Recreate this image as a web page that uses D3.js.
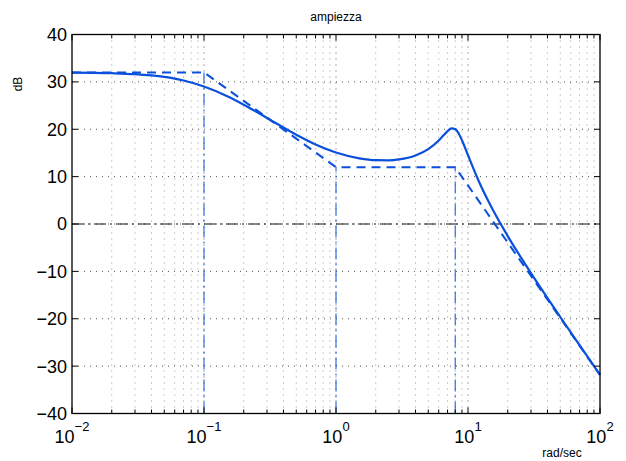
<!DOCTYPE html>
<html>
<head>
<meta charset="utf-8">
<script src="https://cdn.jsdelivr.net/npm/d3@7"></script>
<style>
  body { margin: 0; background: #fff; }
  svg { display: block; font-family: "Liberation Sans", Arial, sans-serif; }
</style>
</head>
<body>
<svg id="bode"></svg>
<script>
const width = 626, height = 461;

// magnitude curve (rad/sec, dB)
const freq = [0.01, 0.02, 0.03, 0.05, 0.07, 0.1, 0.15, 0.2, 0.3, 0.5, 0.7, 1, 1.5, 2, 2.5, 3, 4, 5, 6, 6.5, 7, 7.5, 8, 8.5, 9, 10, 12, 15, 20, 30, 50, 70, 100];
const magDb = [31.96, 31.83, 31.63, 31.04, 30.29, 29.03, 26.98, 25.19, 22.39, 18.85, 16.80, 15.09, 13.86, 13.47, 13.45, 13.64, 14.46, 15.80, 17.62, 18.66, 19.60, 20.17, 20.03, 19.11, 17.69, 14.51, 9.19, 3.64, -2.55, -10.37, -19.63, -25.57, -31.83];

// asymptotic approximation
const asymFreq = [0.01, 0.1, 1, 8, 100];
const asymDb = [32, 32, 12, 12, -31.88];

// break frequencies (vertical guides) and their asymptote level
const breakFreq = [0.1, 1, 8];
const breakDb = [32, 12, 12];

const yTicks = [-40, -30, -20, -10, 0, 10, 20, 30, 40];
const xDecades = [-2, -1, 0, 1, 2];

const margin = {top: 34.5, right: 26, bottom: 47.5, left: 72};
const blue = "#0a50dc";

const svg = d3.select("#bode")
    .attr("width", width)
    .attr("height", height);

const x = d3.scaleLog()
    .domain([0.01, 100])
    .range([margin.left, width - margin.right]);
const y = d3.scaleLinear()
    .domain([-40, 40])
    .range([height - margin.bottom, margin.top]);

// minor x values 2..9 per decade
const minorX = [];
for (let d = -2; d < 2; d++) {
  for (let k = 2; k <= 9; k++) minorX.push(k * Math.pow(10, d));
}
const majorX = xDecades.map(d => Math.pow(10, d));

const grid = svg.append("g");
grid.selectAll("line.minor")
    .data(minorX)
    .enter().append("line")
    .attr("x1", d => x(d)).attr("x2", d => x(d))
    .attr("y1", y(40)).attr("y2", y(-40))
    .attr("stroke", "#999")
    .attr("stroke-dasharray", "1,5");
grid.selectAll("line.majorx")
    .data(majorX.slice(1, -1))
    .enter().append("line")
    .attr("x1", d => x(d)).attr("x2", d => x(d))
    .attr("y1", y(40)).attr("y2", y(-40))
    .attr("stroke", "#555")
    .attr("stroke-dasharray", "1,5");
grid.selectAll("line.majory")
    .data(yTicks.slice(1, -1))
    .enter().append("line")
    .attr("x1", x(0.01)).attr("x2", x(100))
    .attr("y1", d => y(d)).attr("y2", d => y(d))
    .attr("stroke", "#555")
    .attr("stroke-dasharray", "1,5");

// 0 dB reference
svg.append("line")
    .attr("x1", x(0.01)).attr("x2", x(100))
    .attr("y1", y(0)).attr("y2", y(0))
    .attr("stroke", "#111")
    .attr("stroke-width", 1)
    .attr("stroke-dasharray", "12,4,2,4");

// vertical break lines
svg.selectAll("line.brk")
    .data(breakFreq)
    .enter().append("line")
    .attr("x1", d => x(d)).attr("x2", d => x(d))
    .attr("y1", y(-40)).attr("y2", (d, i) => y(breakDb[i]))
    .attr("stroke", blue)
    .attr("stroke-width", 1)
    .attr("stroke-dasharray", "12,4,2,4");

const line = d3.line()
    .x(d => x(d[0]))
    .y(d => y(d[1]));

svg.append("path")
    .datum(asymFreq.map((f, i) => [f, asymDb[i]]))
    .attr("fill", "none")
    .attr("stroke", blue)
    .attr("stroke-width", 2)
    .attr("stroke-dasharray", "9,6")
    .attr("d", line);

svg.append("path")
    .datum(freq.map((f, i) => [f, magDb[i]]))
    .attr("fill", "none")
    .attr("stroke", blue)
    .attr("stroke-width", 2.2)
    .attr("d", line.curve(d3.curveMonotoneX));

// box
svg.append("rect")
    .attr("x", x(0.01)).attr("y", y(40))
    .attr("width", x(100) - x(0.01))
    .attr("height", y(-40) - y(40))
    .attr("fill", "none")
    .attr("stroke", "#000")
    .attr("stroke-width", 1.3);

// inward ticks on all four sides
const tk = svg.append("g").attr("stroke", "#000").attr("stroke-width", 1);
minorX.concat(majorX).forEach(v => {
  const len = majorX.includes(v) ? 6 : 4;
  tk.append("line").attr("x1", x(v)).attr("x2", x(v)).attr("y1", y(-40)).attr("y2", y(-40) - len);
  tk.append("line").attr("x1", x(v)).attr("x2", x(v)).attr("y1", y(40)).attr("y2", y(40) + len);
});
yTicks.forEach(v => {
  tk.append("line").attr("x1", x(0.01)).attr("x2", x(0.01) + 6).attr("y1", y(v)).attr("y2", y(v));
  tk.append("line").attr("x1", x(100)).attr("x2", x(100) - 6).attr("y1", y(v)).attr("y2", y(v));
});

// y tick labels
svg.selectAll("text.ylab")
    .data(yTicks)
    .enter().append("text")
    .attr("x", x(0.01) - 5)
    .attr("y", d => y(d))
    .attr("dy", "0.36em")
    .attr("text-anchor", "end")
    .attr("font-size", 18)
    .text(d => d < 0 ? "\u2212" + Math.abs(d) : d);

// x tick labels 10^n
const xl = svg.selectAll("text.xlab")
    .data(xDecades)
    .enter().append("text")
    .attr("x", d => x(Math.pow(10, d)))
    .attr("y", 443)
    .attr("text-anchor", "middle")
    .attr("font-size", 18);
xl.append("tspan").text("10");
xl.append("tspan")
    .attr("dy", -12)
    .attr("font-size", 13)
    .text(d => d < 0 ? "\u2212" + Math.abs(d) : d);

svg.append("text")
    .attr("x", 336).attr("y", 21)
    .attr("text-anchor", "middle")
    .attr("font-size", 12)
    .text("ampiezza");

svg.append("text")
    .attr("transform", "translate(22,84) rotate(-90)")
    .attr("text-anchor", "middle")
    .attr("font-size", 12)
    .text("dB");

svg.append("text")
    .attr("x", 562).attr("y", 457)
    .attr("text-anchor", "middle")
    .attr("font-size", 12)
    .text("rad/sec");
</script>
</body>
</html>
